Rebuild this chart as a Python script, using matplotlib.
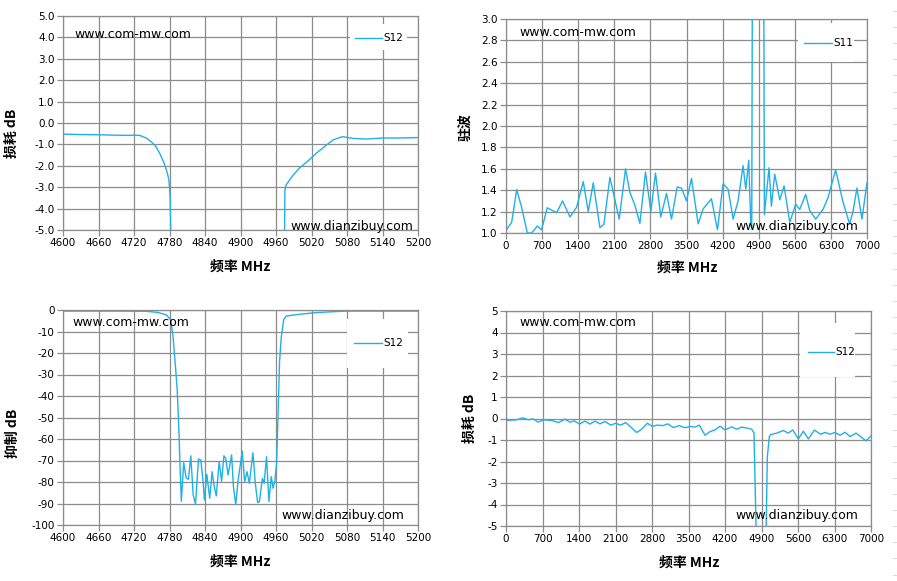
import numpy as np
import matplotlib.pyplot as plt
from matplotlib.patches import Rectangle
from matplotlib.lines import Line2D

plt.rcParams['font.family'] = ['DejaVu Sans', 'Noto Sans CJK SC']

# ---- data ----
# top left: S12 passband zoom (dB)
f_tl = [4600, 4630, 4660, 4690, 4710, 4720, 4730, 4742, 4750, 4757, 4764, 4771,
        4776, 4779, 4781, 4782, 4784, 4800, 4900, 4960, 4972, 4974.5, 4975,
        4977, 4983, 4990, 5000, 5015, 5028, 5042, 5056, 5065, 5073, 5090,
        5113, 5141, 5170, 5200]
s12_tl = [-0.52, -0.54, -0.55, -0.57, -0.58, -0.57, -0.58, -0.72, -0.9, -1.1,
          -1.45, -1.88, -2.3, -2.66, -3.4, -5.0, -12, -60, -80, -60, -12, -5.0,
          -3.13, -2.9, -2.66, -2.4, -2.1, -1.75, -1.42, -1.1, -0.8, -0.7,
          -0.64, -0.72, -0.75, -0.70, -0.70, -0.68]

# top right: S11 VSWR wideband
f_tr = [0, 110, 207, 303, 413, 497, 607, 690, 800, 981, 1097, 1240, 1369, 1498,
        1595, 1692, 1821, 1898, 2015, 2195, 2318, 2402, 2499, 2596, 2705, 2809,
        2899, 3002, 3112, 3209, 3319, 3403, 3500, 3597, 3726, 3822, 3984, 4100,
        4210, 4307, 4404, 4500, 4597, 4649, 4707, 4746, 4765, 4778, 4800, 4900,
        4985, 4998, 5010, 5100, 5146, 5211, 5308, 5392, 5502, 5618, 5695, 5811,
        5889, 6005, 6147, 6244, 6392, 6534, 6663, 6728, 6805, 6902, 7000]
vswr_tr = [1.025, 1.10, 1.405, 1.24, 1.0, 1.0, 1.065, 1.03, 1.235, 1.19, 1.30,
           1.15, 1.24, 1.48, 1.20, 1.47, 1.05, 1.08, 1.52, 1.13, 1.60, 1.38,
           1.26, 1.09, 1.57, 1.20, 1.56, 1.15, 1.37, 1.13, 1.43, 1.42, 1.30,
           1.51, 1.085, 1.225, 1.32, 1.03, 1.46, 1.41, 1.13, 1.30, 1.63, 1.41,
           1.68, 1.08, 1.05, 3.5, 20, 30, 20, 3.5, 1.17, 1.61, 1.25, 1.55,
           1.31, 1.44, 1.10, 1.27, 1.22, 1.36, 1.21, 1.13, 1.22, 1.33, 1.59,
           1.29, 1.085, 1.20, 1.42, 1.13, 1.47]

# bottom left: S12 rejection (dB)
f_bl = [4600, 4650, 4700, 4740, 4760, 4775, 4782, 4786, 4790, 4793, 4796, 4798,
        4800, 4804, 4808, 4812, 4816, 4820, 4824, 4829, 4833, 4837, 4839, 4843,
        4848, 4852, 4855, 4859, 4864, 4868, 4872, 4875, 4879, 4885, 4888, 4892,
        4896, 4903, 4907, 4911, 4915, 4921, 4925, 4929, 4932, 4937, 4940, 4944,
        4948, 4952, 4955, 4958, 4961, 4963, 4966, 4969, 4973, 4977, 5000, 5028,
        5056, 5079, 5140, 5200]
s12_bl = [-0.5, -0.5, -0.5, -0.6, -1.1, -2.3, -4.6, -12.4, -26, -37, -57, -74,
          -89, -71, -78, -78.8, -67.8, -86, -90.2, -69.3, -69.8, -80.6, -88.4,
          -76.4, -87.6, -75.2, -81.1, -86.5, -70.5, -79.7, -67.8, -69, -76.7,
          -67.4, -82.2, -90.4, -79.1, -65.6, -79.8, -75.2, -80.6, -66.4, -80.6,
          -89.6, -89.1, -78.3, -80.6, -68.2, -89.1, -77.5, -82.9, -79.8, -71.3,
          -52.7, -24, -12.4, -4.6, -2.8, -2.0, -1.2, -0.8, -0.5, -0.5, -0.5]

# bottom right: S12 wideband (dB)
f_br = [0, 205, 320, 428, 524, 620, 716, 876, 1004, 1132, 1227, 1311, 1407,
        1515, 1611, 1707, 1803, 1899, 2014, 2103, 2199, 2295, 2410, 2506, 2602,
        2711, 2807, 2890, 3017, 3100, 3209, 3324, 3433, 3529, 3625, 3708, 3817,
        3913, 4009, 4104, 4200, 4328, 4424, 4520, 4629, 4712, 4756, 4795, 4830,
        4900, 4975, 4990, 5012, 5050, 5076, 5191, 5319, 5415, 5498, 5607, 5703,
        5799, 5914, 6035, 6119, 6214, 6310, 6406, 6502, 6598, 6713, 6905, 7000]
s12_br = [-0.09, -0.06, 0.03, -0.06, -0.02, -0.17, -0.06, -0.09, -0.19, -0.03,
          -0.17, -0.11, -0.26, -0.12, -0.26, -0.12, -0.25, -0.14, -0.31, -0.22,
          -0.31, -0.19, -0.43, -0.65, -0.5, -0.22, -0.37, -0.31, -0.33, -0.25,
          -0.42, -0.33, -0.43, -0.37, -0.4, -0.31, -0.78, -0.61, -0.53, -0.36,
          -0.53, -0.39, -0.5, -0.4, -0.45, -0.5, -0.68, -5.0, -30, -60, -30,
          -5.0, -1.77, -0.84, -0.75, -0.68, -0.56, -0.68, -0.53, -0.95, -0.59,
          -0.95, -0.54, -0.73, -0.65, -0.73, -0.65, -0.78, -0.64, -0.84, -0.68,
          -1.04, -0.81]

W, H = 897, 581
LINE = '#20B0E8'
GRID = '#8c8c8c'

fig = plt.figure(figsize=(W / 100, H / 100), dpi=100)


def px_axes(x0, y0, x1, y1):
    return fig.add_axes([x0 / W, 1 - y1 / H, (x1 - x0) / W, (y1 - y0) / H])


def style(ax, xt, yt, yfmt):
    ax.set_xticks(xt)
    ax.set_yticks(yt)
    ax.set_xlim(xt[0], xt[-1])
    ax.set_ylim(yt[0], yt[-1])
    ax.set_yticklabels([yfmt % v for v in yt])
    ax.grid(True, color=GRID, lw=0.9)
    ax.set_axisbelow(True)
    for s in ax.spines.values():
        s.set_color(GRID)
        s.set_linewidth(0.9)
    ax.tick_params(direction='out', length=4, width=0.9, color=GRID,
                   labelsize=7.5, pad=2)


def legend_box(ax, box, line, label):
    # white legend area (pixels), handle line and label
    bx0, by0, bx1, by1 = box
    inv = ax.transAxes.inverted()
    p0 = inv.transform((bx0, H - by1))
    p1 = inv.transform((bx1, H - by0))
    ax.add_patch(Rectangle(p0, p1[0] - p0[0], p1[1] - p0[1], transform=ax.transAxes,
                           facecolor='white', edgecolor='none', zorder=1.5))
    lx0, lx1, ly = line
    fig.add_artist(Line2D([lx0 / W, lx1 / W], [1 - ly / H, 1 - ly / H], color=LINE,
                          lw=1.0, zorder=5))
    fig.text(lx1 / W + 0.001, 1 - ly / H, label, fontsize=7.5, va='center', ha='left',
             zorder=5)


def marks(x1, y1, x2, y2):
    fig.text(x1 / W, 1 - y1 / H, 'www.com-mw.com', fontsize=9, va='center', ha='left')
    fig.text(x2 / W, 1 - y2 / H, 'www.dianzibuy.com', fontsize=9, va='center', ha='left')


lab_font = dict(family=['Noto Sans CJK SC', 'DejaVu Sans'], weight='bold', fontsize=10)

# top left
ax1 = px_axes(63, 16, 418, 230)
ax1.plot(f_tl, s12_tl, color=LINE, lw=1.0, zorder=2)
style(ax1, np.arange(4600, 5201, 60), np.arange(-5, 5.01, 1.0), '%.1f')
legend_box(ax1, (350, 24, 407, 50), (355, 382, 38), 'S12')
marks(74, 34, 290, 226)
fig.text(12 / W, 1 - 133 / H, '损耗 dB', rotation=90, va='center', ha='center', **lab_font)
fig.text(240 / W, 1 - 267 / H, '频率 MHz', va='center', ha='center', **lab_font)

# top right
ax2 = px_axes(506, 19, 867, 233)
ax2.plot(f_tr, vswr_tr, color=LINE, lw=1.0, zorder=2)
style(ax2, np.arange(0, 7001, 700), np.arange(1.0, 3.01, 0.2), '%.1f')
legend_box(ax2, (798, 23, 854, 62), (804, 832, 43), 'S11')
marks(519, 33, 735, 226)
fig.text(465 / W, 1 - 127 / H, '驻波', rotation=90, va='center', ha='center', **lab_font)
fig.text(687 / W, 1 - 268 / H, '频率 MHz', va='center', ha='center', **lab_font)

# bottom left
ax3 = px_axes(63, 310, 418, 525)
ax3.plot(f_bl, s12_bl, color=LINE, lw=1.0, zorder=2)
style(ax3, np.arange(4600, 5201, 60), np.arange(-100, 1, 10), '%d')
legend_box(ax3, (347, 319, 408, 368), (354, 382, 343), 'S12')
marks(72, 323, 281, 516)
fig.text(13 / W, 1 - 433 / H, '抑制 dB', rotation=90, va='center', ha='center', **lab_font)
fig.text(240 / W, 1 - 562 / H, '频率 MHz', va='center', ha='center', **lab_font)

# bottom right
ax4 = px_axes(506, 311, 871, 526)
ax4.plot(f_br, s12_br, color=LINE, lw=1.0, zorder=2)
style(ax4, np.arange(0, 7001, 700), np.arange(-5, 5.01, 1), '%d')
legend_box(ax4, (800, 323, 855, 377), (808, 834, 352), 'S12')
marks(519, 323, 735, 516)
fig.text(470 / W, 1 - 418 / H, '损耗 dB', rotation=90, va='center', ha='center', **lab_font)
fig.text(689 / W, 1 - 563 / H, '频率 MHz', va='center', ha='center', **lab_font)

# faint sheet marks on the right edge
for yy in np.arange(11, 575, 16.1):
    fig.add_artist(Line2D([893 / W, 897 / W], [1 - yy / H, 1 - yy / H], color='#dddddd', lw=0.8))

fig.savefig('out.png', dpi=100)
